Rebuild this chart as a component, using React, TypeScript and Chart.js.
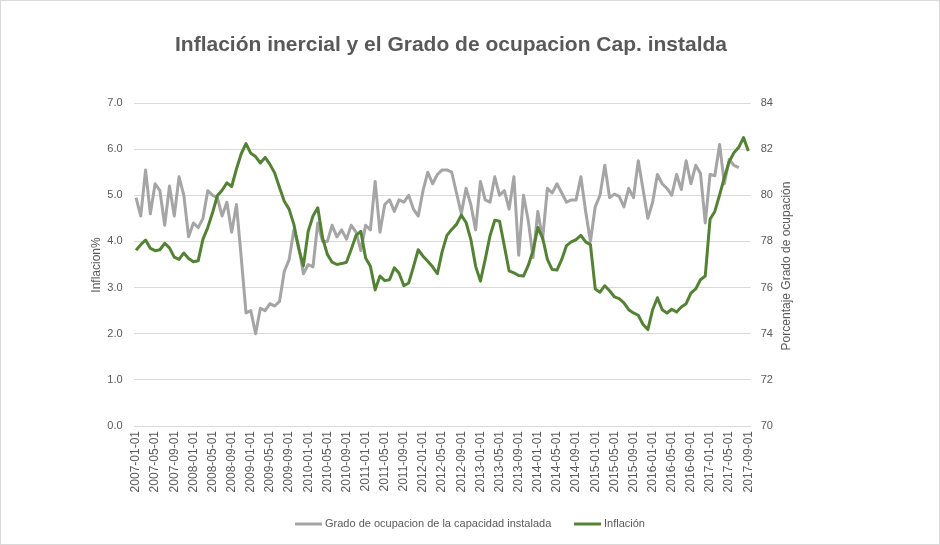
import React, { useEffect, useRef } from "react";
import { Chart, registerables } from "chart.js";

Chart.register(...registerables);

const TITLE = "Inflación inercial y el Grado de ocupacion Cap. instalda";
const LEFT_AXIS_TITLE = "Inflacion%";
const RIGHT_AXIS_TITLE = "Porcentaje Grado de ocupación";
const SERIES_OCUPACION = "Grado de ocupacion de la capacidad instalada";
const SERIES_INFLACION = "Inflación";

// Monthly categories 2007-01-01 .. 2017-09-01
const months: string[] = [];
for (let y = 2007; y <= 2017; y++) {
  for (let m = 1; m <= 12; m++) {
    if (y === 2017 && m > 9) break;
    months.push(`${y}-${String(m).padStart(2, "0")}-01`);
  }
}

// Grado de ocupación de la capacidad instalada (%), right axis
const ocupacion: number[] = [
  79.9, 79.1, 81.1, 79.2, 80.5, 80.2, 78.7, 80.4, 79.1, 80.8, 80.0, 78.2,
  78.8, 78.6, 79.0, 80.2, 80.0, 79.9, 79.1, 79.7, 78.4, 79.6, 77.3, 74.9,
  75.0, 74.0, 75.1, 75.0, 75.3, 75.2, 75.4, 76.7, 77.2, 78.5, 77.8, 76.6,
  77.0, 76.9, 78.8, 78.0, 78.0, 78.7, 78.2, 78.5, 78.1, 78.7, 78.4, 77.6,
  78.7, 78.5, 80.6, 78.4, 79.6, 79.8, 79.3, 79.8, 79.7, 80.0, 79.4, 79.1,
  80.2, 81.0, 80.5, 80.9, 81.1, 81.1, 81.0, 80.1, 79.2, 80.3, 79.6, 78.5,
  80.6, 79.8, 79.7, 80.8, 80.0, 80.2, 79.4, 80.8, 77.4, 80.0, 78.9, 77.3,
  79.3, 78.1, 80.3, 80.1, 80.5, 80.1, 79.7, 79.8, 79.8, 80.8, 79.3, 78.0,
  79.5, 80.0, 81.3, 79.9, 80.05, 79.95, 79.5, 80.3, 79.9, 81.5, 80.25, 79.0,
  79.7, 80.9, 80.5, 80.3, 80.0, 80.9, 80.25, 81.5, 80.5, 81.3, 80.95, 78.8,
  80.9, 80.85, 82.2, 80.5, 81.55, 81.3, 81.2,
];

// Inflación (%), left axis
const inflacion: number[] = [
  3.81, 3.93, 4.03, 3.85, 3.80, 3.82, 3.96, 3.86, 3.66, 3.61, 3.75, 3.63,
  3.56, 3.58, 4.05, 4.30, 4.62, 4.99, 5.11, 5.27, 5.19, 5.57, 5.90, 6.12,
  5.91, 5.84, 5.70, 5.82, 5.67, 5.48, 5.17, 4.87, 4.70, 4.37, 3.85, 3.47,
  4.22, 4.55, 4.73, 4.08, 3.72, 3.55, 3.50, 3.52, 3.55, 3.83, 4.13, 4.22,
  3.64, 3.46, 2.95, 3.25, 3.15, 3.17, 3.43, 3.31, 3.04, 3.10, 3.45, 3.82,
  3.68, 3.57, 3.45, 3.30, 3.78, 4.13, 4.26, 4.37, 4.57, 4.41, 4.04, 3.46,
  3.14, 3.61, 4.12, 4.46, 4.44, 3.90, 3.36, 3.32, 3.26, 3.25, 3.48, 3.80,
  4.30, 4.08, 3.61, 3.39, 3.38, 3.61, 3.91, 3.99, 4.04, 4.13, 3.99, 3.93,
  2.97, 2.90, 3.04, 2.93, 2.80, 2.76, 2.67, 2.52, 2.45, 2.40, 2.20, 2.09,
  2.52, 2.78, 2.52, 2.45, 2.53, 2.47, 2.58, 2.65, 2.88, 2.97, 3.17, 3.25,
  4.48, 4.65, 5.01, 5.39, 5.73, 5.92, 6.04, 6.25, 5.96,
];

const GRAY = "#A5A5A5";
const GREEN = "#548235";
const TEXT = "#595959";
const GRID = "#D9D9D9";
const FONT = "'Liberation Sans', Arial, sans-serif";

const W = 940;
const H = 545;
const AREA_LEFT = 133.6;
const AREA_RIGHT = 750.7;
const AREA_TOP = 103;
const AREA_BOTTOM = 426;

const decorPlugin = {
  id: "decor",
  afterDraw(chart: any) {
    const ctx = chart.ctx as CanvasRenderingContext2D;
    ctx.save();
    ctx.strokeStyle = GRID;
    ctx.lineWidth = 1;
    ctx.strokeRect(0.5, 0.5, W - 1, H - 1);

    ctx.fillStyle = TEXT;
    ctx.textAlign = "center";
    ctx.textBaseline = "middle";
    ctx.font = `bold 21px ${FONT}`;
    ctx.fillText(TITLE, 451, 45);

    ctx.font = `12px ${FONT}`;
    ctx.save();
    ctx.translate(97, 265);
    ctx.rotate(-Math.PI / 2);
    ctx.fillText(LEFT_AXIS_TITLE, 0, 0);
    ctx.restore();
    ctx.save();
    ctx.translate(787, 266);
    ctx.rotate(-Math.PI / 2);
    ctx.fillText(RIGHT_AXIS_TITLE, 0, 0);
    ctx.restore();

    // legend
    ctx.font = `11px ${FONT}`;
    ctx.textAlign = "left";
    ctx.lineWidth = 3;
    ctx.lineCap = "butt";
    const ly = 524;
    ctx.strokeStyle = GRAY;
    ctx.beginPath();
    ctx.moveTo(295, ly);
    ctx.lineTo(322, ly);
    ctx.stroke();
    ctx.fillText(SERIES_OCUPACION, 325, ly);
    ctx.strokeStyle = GREEN;
    ctx.beginPath();
    ctx.moveTo(574, ly);
    ctx.lineTo(601, ly);
    ctx.stroke();
    ctx.fillText(SERIES_INFLACION, 604, ly);
    ctx.restore();
  },
};

export default function App() {
  const canvasRef = useRef<HTMLCanvasElement | null>(null);

  useEffect(() => {
    document.body.style.margin = "0";
    const canvas = canvasRef.current;
    if (!canvas) return;
    const chart = new Chart(canvas, {
      type: "line",
      data: {
        labels: months,
        datasets: [
          {
            label: SERIES_OCUPACION,
            data: ocupacion,
            yAxisID: "y1",
            borderColor: GRAY,
            backgroundColor: GRAY,
            borderWidth: 3,
            pointRadius: 0,
            tension: 0,
            borderJoinStyle: "round",
            order: 2,
          },
          {
            label: SERIES_INFLACION,
            data: inflacion,
            yAxisID: "y",
            borderColor: GREEN,
            backgroundColor: GREEN,
            borderWidth: 3,
            pointRadius: 0,
            tension: 0,
            borderJoinStyle: "round",
            order: 1,
          },
        ],
      },
      options: {
        responsive: false,
        animation: false,
        devicePixelRatio: 1,
        layout: { padding: { top: AREA_TOP, left: 0, right: 0, bottom: 0 } },
        plugins: {
          legend: { display: false },
          title: { display: false },
          tooltip: { enabled: false },
        },
        scales: {
          x: {
            type: "category",
            offset: true,
            grid: { display: false, drawTicks: false },
            border: { display: false },
            ticks: {
              autoSkip: false,
              maxRotation: 90,
              minRotation: 90,
              padding: 5,
              color: TEXT,
              font: { family: FONT, size: 12 },
              callback: (_v: any, i: number) => (i % 4 === 0 ? months[i] : ""),
            },
            afterFit: (s: any) => {
              s.height = H - AREA_BOTTOM;
            },
          },
          y: {
            position: "left",
            min: 0,
            max: 7,
            grid: { color: GRID, drawTicks: false, lineWidth: 1 },
            border: { display: false },
            ticks: {
              stepSize: 1,
              padding: 11,
              color: TEXT,
              font: { family: FONT, size: 11 },
              callback: (v: any) => Number(v).toFixed(1),
            },
            afterFit: (s: any) => {
              s.width = AREA_LEFT;
            },
          },
          y1: {
            position: "right",
            min: 70,
            max: 84,
            grid: { display: false, drawTicks: false },
            border: { display: false },
            ticks: {
              stepSize: 2,
              padding: 10,
              color: TEXT,
              font: { family: FONT, size: 11 },
            },
            afterFit: (s: any) => {
              s.width = W - AREA_RIGHT;
            },
          },
        },
      },
      plugins: [decorPlugin],
    });
    return () => chart.destroy();
  }, []);

  return (
    <div style={{ position: "absolute", left: 0, top: 0, width: W, height: H, background: "#fff" }}>
      <canvas ref={canvasRef} width={W} height={H} style={{ width: W, height: H, display: "block" }} />
    </div>
  );
}
